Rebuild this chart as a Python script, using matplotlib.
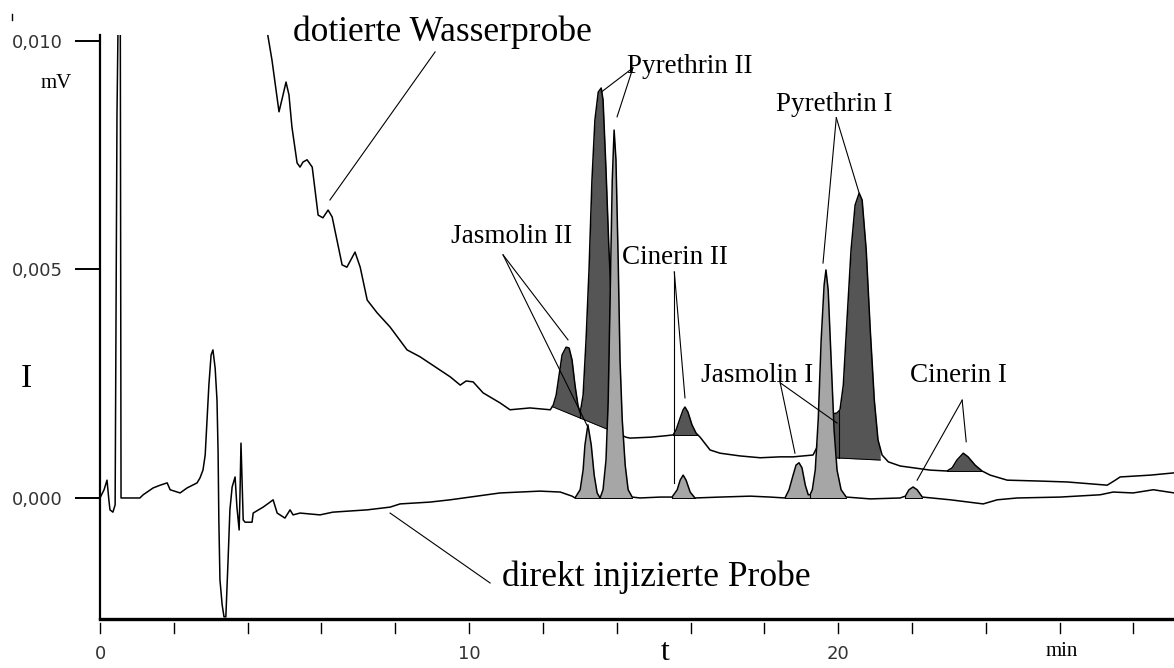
import matplotlib
matplotlib.use("Agg")
import matplotlib.pyplot as plt
from matplotlib.lines import Line2D
import numpy as np

# retention time (min) and detector signal (µV) of the directly injected sample
lower_t = np.array([
    0.00, 0.11, 0.19, 0.24, 0.27, 0.35, 0.41, 0.43, 0.46, 0.49, 0.52, 0.55, 0.57,
    1.08, 1.17, 1.44, 1.63, 1.82, 1.90, 2.17, 2.36, 2.63, 2.71, 2.79, 2.85, 2.90,
    2.95, 3.01, 3.06, 3.12, 3.17, 3.20, 3.22, 3.25, 3.31, 3.36, 3.41, 3.47, 3.52,
    3.58, 3.66, 3.71, 3.77, 3.79, 3.82, 3.85, 3.88, 3.93, 4.12, 4.15, 4.42, 4.61,
    4.69, 4.80, 5.01, 5.15, 5.23, 5.42, 5.96, 6.31, 7.24, 7.86, 8.13, 8.94, 9.49,
    10.03, 10.84, 11.38, 11.92, 12.47, 12.79, 12.87, 13.01, 13.09, 13.14, 13.22,
    13.31, 13.39, 13.47, 13.55, 13.63, 13.71, 13.77, 13.82, 13.88, 13.93, 13.98,
    14.04, 14.09, 14.15, 14.23, 14.31, 14.42, 14.63, 15.18, 15.50, 15.64, 15.72,
    15.80, 15.88, 15.99, 16.12, 16.80, 17.62, 18.16, 18.56, 18.67, 18.78, 18.86,
    18.94, 19.02, 19.11, 19.19, 19.24, 19.30, 19.38, 19.46, 19.54, 19.62, 19.67,
    19.73, 19.81, 19.89, 19.97, 20.08, 20.22, 20.87, 21.68, 21.82, 21.92, 22.03,
    22.14, 22.28, 23.04, 23.93, 24.31, 24.85, 26.02, 27.10, 27.45, 27.99, 28.54,
    29.11,
])
lower_uv = np.array([
    0.00, 0.18, 0.39, -0.04, -0.26, -0.31, -0.15, 3.20, 8.38, 10.40, 14.00, 10.40, 0.00,
    0.00, 0.07, 0.22, 0.28, 0.33, 0.18, 0.11, 0.22, 0.33, 0.44, 0.61, 0.94, 1.71,
    2.47, 3.13, 3.24, 2.84, 2.14, 0.98, -0.48, -1.79, -2.34, -2.60, -2.60, -1.36, -0.26,
    0.24, 0.46, -0.20, -0.70, -0.04, 1.20, 0.39, -0.48, -0.53, -0.53, -0.33, -0.20, -0.09,
    -0.04, -0.33, -0.44, -0.26, -0.37, -0.33, -0.37, -0.31, -0.26, -0.20, -0.13, -0.09, -0.04,
    0.02, 0.11, 0.13, 0.15, 0.13, 0.04, 0.00, 0.18, 0.61, 1.16, 1.60,
    1.16, 0.50, 0.11, 0.00, 0.18, 0.83, 2.14, 4.33, 6.96, 8.05, 7.40,
    5.21, 3.02, 1.71, 0.72, 0.18, 0.02, 0.00, 0.02, 0.02, 0.18, 0.39,
    0.50, 0.39, 0.13, 0.00, 0.02, 0.04, 0.02, 0.00, 0.18, 0.50, 0.72,
    0.77, 0.66, 0.28, 0.07, 0.07, 0.18, 0.61, 1.71, 3.46, 4.66, 4.99,
    4.55, 3.02, 1.49, 0.61, 0.18, 0.02, -0.02, 0.00, 0.04, 0.18, 0.24,
    0.18, 0.02, -0.04, -0.13, -0.04, 0.00, 0.02, 0.07, 0.13, 0.11, 0.18,
    0.11,
])

# spiked water sample
upper_t = np.array([
    4.50, 4.66, 4.85, 4.96, 5.04, 5.12, 5.20, 5.34, 5.42, 5.50, 5.61, 5.75, 5.91,
    6.04, 6.18, 6.29, 6.56, 6.69, 6.91, 7.05, 7.24, 7.51, 7.86, 8.32, 8.67, 9.49,
    9.76, 9.92, 10.11, 10.38, 10.84, 11.11, 11.65, 12.20, 12.28, 12.36, 12.44, 12.52,
    12.63, 12.71, 12.79, 12.87, 12.95, 13.01, 13.09, 13.17, 13.25, 13.33, 13.41,
    13.50, 13.58, 13.63, 13.71, 13.79, 13.88, 13.96, 14.04, 14.12, 14.25, 14.36,
    14.91, 15.31, 15.53, 15.61, 15.72, 15.80, 15.85, 15.93, 16.04, 16.15, 16.26,
    16.53, 16.80, 17.34, 17.89, 18.43, 18.78, 19.32, 19.46, 19.59, 19.73, 19.86,
    19.97, 20.05, 20.14, 20.24, 20.35, 20.46, 20.57, 20.65, 20.76, 20.87, 20.98,
    21.08, 21.19, 21.36, 21.68, 22.49, 22.95, 23.09, 23.22, 23.39, 23.52, 23.71,
    23.90, 24.12, 24.58, 25.47, 26.21, 26.83, 27.29, 27.51, 27.64, 28.46, 29.11,
])
upper_uv = np.array([
    10.35, 9.58, 8.45, 8.82, 9.10, 8.82, 8.12, 7.33, 7.24, 7.35, 7.40, 7.24, 6.19,
    6.13, 6.30, 6.15, 5.10, 5.05, 5.38, 5.05, 4.33, 4.05, 3.74, 3.24, 3.09, 2.65,
    2.47, 2.56, 2.54, 2.30, 2.08, 1.93, 1.97, 1.93, 2.03, 2.25, 2.69, 3.13,
    3.30, 3.28, 3.02, 2.47, 2.03, 1.86, 2.25, 3.46, 4.99, 6.96, 8.27,
    8.88, 8.97, 8.71, 7.18, 5.43, 3.89, 2.58, 1.71, 1.38, 1.33, 1.31,
    1.33, 1.36, 1.38, 1.49, 1.75, 1.93, 1.99, 1.88, 1.60, 1.42, 1.33,
    1.05, 0.98, 0.92, 0.88, 0.90, 0.90, 0.94, 1.16, 1.49, 1.71, 1.84,
    1.86, 1.93, 2.47, 3.89, 5.43, 6.41, 6.67, 6.52, 5.43, 3.68, 2.14,
    1.27, 0.94, 0.79, 0.70, 0.61, 0.59, 0.66, 0.83, 0.98, 0.90, 0.72,
    0.59, 0.50, 0.39, 0.37, 0.35, 0.31, 0.28, 0.39, 0.46, 0.50, 0.55,
])

# integration windows: start, end, baseline at start, baseline at end, drop lines
upper_windows = [
    (12.25, 14.12, 2.00, 1.38, [13.01]),
    (15.53, 16.21, 1.38, 1.38, []),
    (19.86, 21.14, 0.88, 0.83, [20.03]),
    (22.95, 23.90, 0.59, 0.59, []),
]
lower_windows = [
    (12.87, 14.42, 0.0, 0.0, [13.55]),
    (15.50, 16.12, 0.0, 0.0, []),
    (18.56, 20.22, 0.0, 0.0, [19.24]),
    (21.82, 22.28, 0.0, 0.0, []),
]

x_ticks = list(range(0, 29, 2))
x_ticklabels = [str(v) if v in (0, 10, 20) else "" for v in x_ticks]
y_ticks = [0, 5, 10]
y_ticklabels = ["0,000", "0,005", "0,010"]

DARK = "#555555"
LIGHT = "#a6a6a6"
SERIF = "Liberation Serif"

fig = plt.figure(figsize=(11.74, 6.68), dpi=100)
ax = fig.add_axes([100 / 1174, 1 - 619 / 668, 1074 / 1174, 584 / 668])


def shade(t, y, windows, color, z):
    for t0, t1, b0, b1, drops in windows:
        ts = np.concatenate([[t0], t[(t > t0) & (t < t1)], [t1]])
        ys = np.interp(ts, t, y)
        base = np.interp(ts, [t0, t1], [b0, b1])
        ax.fill_between(ts, base, ys, color=color, lw=0, zorder=z)
        ax.plot([t0, t1], [b0, b1], color="black", lw=0.7, zorder=z + 0.1)
        for d in drops:
            ax.plot([d, d], [np.interp(d, [t0, t1], [b0, b1]), np.interp(d, t, y)],
                    color="black", lw=0.8, zorder=z + 0.1)
        ax.plot([t0, t0], [b0, ys[0]], color="black", lw=0.8, zorder=z + 0.1)


shade(upper_t, upper_uv, upper_windows, DARK, 2)
ax.plot(upper_t, upper_uv, color="black", lw=1.1, zorder=3)
shade(lower_t, lower_uv, lower_windows, LIGHT, 4)
ax.plot(lower_t, lower_uv, color="black", lw=1.1, zorder=5)

ax.set_xlim(0, 29.1)
ax.set_ylim(-2.648, 10.13)

for s in ("top", "right"):
    ax.spines[s].set_visible(False)
ax.spines["left"].set_linewidth(1.6)
ax.spines["bottom"].set_linewidth(2.4)

ax.set_xticks(x_ticks)
ax.set_xticklabels(x_ticklabels)
ax.set_yticks(y_ticks)
ax.set_yticklabels(y_ticklabels)
ax.tick_params(axis="x", length=0, pad=19, labelsize=13, labelcolor="#333333")
ax.tick_params(axis="y", direction="out", length=18, width=1.4, pad=9,
               labelsize=13, labelcolor="#333333")

# x tick marks sit a little below the axis line
xtrans = ax.get_xaxis_transform()
for v in x_ticks:
    ax.plot([v, v], [-0.007, -0.024], transform=xtrans, color="black", lw=1.0,
            clip_on=False)

# compound labels with leader lines
lead = dict(color="black", lw=0.8, zorder=6)
lab = dict(family=SERIF, fontsize=19.5, ha="center", va="center", zorder=7)

ax.text(15.99, 9.45, "Pyrethrin II", **lab)
ax.plot([14.44, 13.58], [9.41, 8.88], **lead)
ax.plot([14.44, 14.01], [9.41, 8.34], **lead)

ax.text(15.58, 5.27, "Cinerin II", **lab)
ax.plot([15.56, 15.56], [4.95, 0.33], **lead)
ax.plot([15.56, 15.85], [4.95, 2.19], **lead)

ax.text(11.14, 5.73, "Jasmolin II", **lab)
ax.plot([10.92, 12.68], [5.32, 3.46], **lead)
ax.plot([10.92, 13.22], [5.32, 1.55], **lead)

ax.text(19.89, 8.62, "Pyrethrin I", **lab)
ax.plot([19.95, 19.59], [8.32, 5.14], **lead)
ax.plot([19.95, 20.57], [8.32, 6.67], **lead)

ax.text(17.80, 2.69, "Jasmolin I", **lab)
ax.plot([18.43, 18.83], [2.52, 0.98], **lead)
ax.plot([18.43, 19.97], [2.52, 1.64], **lead)

ax.text(23.25, 2.69, "Cinerin I", **lab)
ax.plot([23.36, 23.47], [2.14, 1.23], **lead)
ax.plot([23.36, 22.14], [2.14, 0.39], **lead)

# sample labels
ax.text(9.27, 10.18, "dotierte Wasserprobe", family=SERIF, fontsize=25.5,
        ha="center", va="center", clip_on=False)
ax.plot([9.08, 6.23], [9.76, 6.52], **lead)
ax.text(10.89, -1.73, "direkt injizierte Probe", family=SERIF, fontsize=25.5,
        ha="left", va="center")
ax.plot([7.86, 10.57], [-0.33, -1.86], **lead)

# axis captions
fig.text(26 / 1174, 1 - 379 / 668, "I", family=SERIF, fontsize=24, ha="center", va="center")
fig.text(56 / 1174, 1 - 84 / 668, "mV", family=SERIF, fontsize=15, ha="center", va="center")
fig.text(665 / 1174, 1 - 652 / 668, "t", family=SERIF, fontsize=23, ha="center", va="center")
fig.text(1062 / 1174, 1 - 652 / 668, "min", family=SERIF, fontsize=15, ha="center", va="center")
fig.add_artist(Line2D([12 / 1174, 12 / 1174], [1 - 14 / 668, 1 - 20 / 668],
                      color="black", lw=1.0))

fig.savefig("out.png", dpi=100)
